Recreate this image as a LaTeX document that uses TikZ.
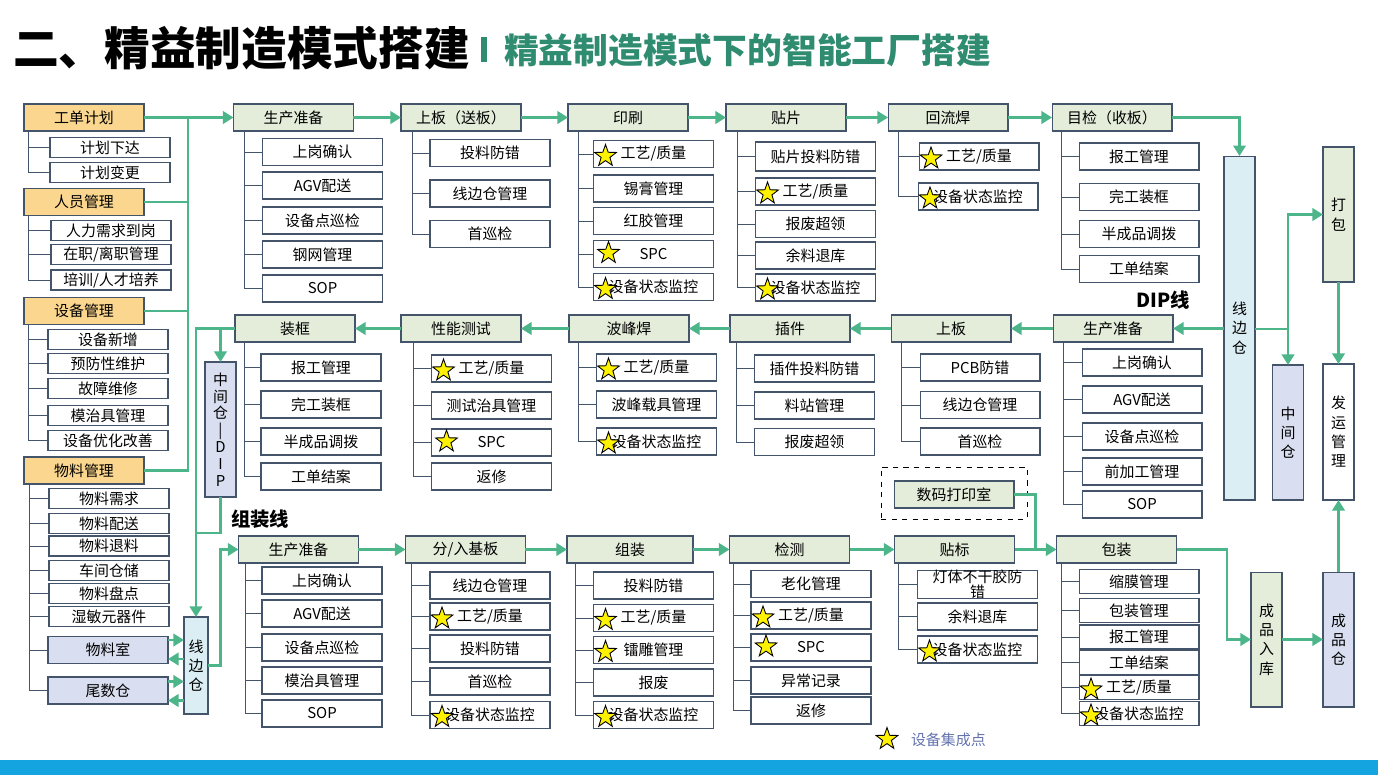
\documentclass[tikz,border=0pt]{standalone}
\usepackage{fontspec}
\setmainfont{Noto Sans CJK SC}
\usepackage{tikz}
\usetikzlibrary{shapes.geometric,arrows.meta}

\definecolor{boxline}{RGB}{68,84,106}
\definecolor{stepgreen}{RGB}{227,237,218}
\definecolor{mgrorange}{RGB}{250,214,142}
\definecolor{bluefill}{RGB}{217,223,240}
\definecolor{cyanfill}{RGB}{218,238,243}
\definecolor{flowgreen}{RGB}{76,182,138}
\definecolor{titleteal}{RGB}{48,140,112}
\definecolor{bandblue}{RGB}{20,165,225}
\definecolor{legendblue}{RGB}{100,115,175}

\begin{document}
\begin{tikzpicture}[x=0.02cm, y=-0.02cm,
    every node/.style={inner sep=0pt, outer sep=0pt, font=\fontsize{8.5}{10}\selectfont},
    box/.style={draw=boxline, line width=0.6pt, minimum width=2.4cm, minimum height=0.54cm},
    stepbox/.style={box, fill=stepgreen},
    mgrbox/.style={box, fill=mgrorange},
    subbox/.style={box, fill=white},
    leftsub/.style={box, fill=white, minimum height=0.4cm},
    colbox/.style={draw=boxline, line width=0.6pt, minimum width=0.62cm, minimum height=2.7cm, align=center, font=\fontsize{8.5}{11}\selectfont},
    goldstar/.style={star, star points=5, star point ratio=2.5, minimum size=0.46cm, fill=yellow, draw=black, line width=0.5pt},
    tree/.style={draw=boxline, line width=0.5pt},
    flow/.style={draw=flowgreen, line width=1.6pt},
    flowarrow/.style={flow, -{Triangle[length=6pt,width=7pt]}},
    linelabel/.style={font=\fontsize{11}{11}\selectfont\bfseries}]

    \useasboundingbox (0,0) rectangle (1378,775);

    % Title
    \node[anchor=west, font=\fontsize{26}{26}\selectfont\bfseries] (ttl) at (13,48) {二、精益制造模式搭建};
    \node[fill=titleteal, minimum width=0.12cm, minimum height=0.5cm] (ttlbar) at (484,49) {};
    \node[anchor=west, text=titleteal, font=\fontsize{19.8}{20}\selectfont\bfseries] (subttl) at (504,50) {精益制造模式下的智能工厂搭建};
    \fill[bandblue] (0,760) rectangle (1378,775);

    % Left column
    \node[mgrbox] (jh) at (84,117.5) {工单计划};
    \node[leftsub] (jh1) at (110,147.5) {计划下达};
    \node[leftsub] (jh2) at (110,172.5) {计划变更};
    \node[mgrbox] (ry) at (84,202) {人员管理};
    \node[leftsub] (ry1) at (111,230.5) {人力需求到岗};
    \node[leftsub] (ry2) at (111,254.5) {在职/离职管理};
    \node[leftsub] (ry3) at (111,280) {培训/人才培养};
    \node[mgrbox] (sb) at (84,311) {设备管理};
    \node[leftsub] (sb1) at (108,339.5) {设备新增};
    \node[leftsub] (sb2) at (108,363.5) {预防性维护};
    \node[leftsub] (sb3) at (108,388.5) {故障维修};
    \node[leftsub] (sb4) at (108,415.5) {模治具管理};
    \node[leftsub] (sb5) at (108,440.5) {设备优化改善};
    \node[mgrbox] (wl) at (84,470.5) {物料管理};
    \node[leftsub] (wl1) at (109,498.5) {物料需求};
    \node[leftsub] (wl2) at (109,523.5) {物料配送};
    \node[leftsub] (wl3) at (109,546) {物料退料};
    \node[leftsub] (wl4) at (109,570.5) {车间仓储};
    \node[leftsub] (wl5) at (109,593.5) {物料盘点};
    \node[leftsub] (wl6) at (109,616.5) {湿敏元器件};
    \node[subbox, fill=bluefill] (wls) at (108,650) {物料室};
    \node[subbox, fill=bluefill] (wsc) at (108,690.5) {尾数仓};
    \node[colbox, fill=cyanfill, minimum width=0.48cm, minimum height=1.94cm] (xbL) at (196,665.5) {线\\边\\仓};
    \node[colbox, fill=bluefill, font=\fontsize{8.5}{9.6}\selectfont] (zjDip) at (220.5,429.5) {中\\间\\仓\\|\\D\\I\\P};

    \foreach \c in {jh1,jh2} \draw[tree] ([xshift=0.08cm]jh.south west) |- (\c.west);
    \foreach \c in {ry1,ry2,ry3} \draw[tree] ([xshift=0.08cm]ry.south west) |- (\c.west);
    \foreach \c in {sb1,sb2,sb3,sb4,sb5} \draw[tree] ([xshift=0.08cm]sb.south west) |- (\c.west);
    \foreach \c in {wl1,wl2,wl3,wl4,wl5,wl6,wls,wsc} \draw[tree] ([xshift=0.1cm]wl.south west) |- (\c.west);

    % SMT line
    \node[stepbox] (smt1) at (293.5,117.5) {生产准备};
    \node[stepbox] (smt2) at (461,117.5) {上板（送板）};
    \node[stepbox] (smt3) at (628,117.5) {印刷};
    \node[stepbox] (smt4) at (786,117.5) {贴片};
    \node[stepbox] (smt5) at (948,117.5) {回流焊};
    \node[stepbox] (smt6) at (1112,117.5) {目检（收板）};

    \node[subbox] (smt1a) at (322.5,152) {上岗确认};
    \node[subbox] (smt1b) at (322.5,185.5) {AGV配送};
    \node[subbox] (smt1c) at (322.5,220.5) {设备点巡检};
    \node[subbox] (smt1d) at (322.5,254.5) {钢网管理};
    \node[subbox] (smt1e) at (322.5,288.5) {SOP};
    \node[subbox] (smt2a) at (490,153) {投料防错};
    \node[subbox] (smt2b) at (490,193.5) {线边仓管理};
    \node[subbox] (smt2c) at (490,234) {首巡检};
    \node[subbox] (smt3a) at (653.5,154) {工艺/质量};
    \node[subbox] (smt3b) at (653.5,188.5) {锡膏管理};
    \node[subbox] (smt3c) at (653.5,221) {红胶管理};
    \node[subbox] (smt3d) at (653.5,254) {SPC};
    \node[subbox] (smt3e) at (653.5,287) {设备状态监控};
    \node[subbox, minimum height=0.58cm] (smt4a) at (815.5,156.5) {贴片投料防错};
    \node[subbox] (smt4b) at (815.5,191.5) {工艺/质量};
    \node[subbox] (smt4c) at (815.5,224) {报废超领};
    \node[subbox] (smt4d) at (815.5,255.5) {余料退库};
    \node[subbox] (smt4e) at (815.5,287.5) {设备状态监控};
    \node[subbox] (smt5a) at (979,156.5) {工艺/质量};
    \node[subbox] (smt5b) at (978,196.5) {设备状态监控};
    \node[subbox] (smt6a) at (1139,156.5) {报工管理};
    \node[subbox] (smt6b) at (1139,197) {完工装框};
    \node[subbox] (smt6c) at (1139,234) {半成品调拨};
    \node[subbox] (smt6d) at (1139,269) {工单结案};

    \foreach \c in {smt1a,smt1b,smt1c,smt1d,smt1e} \draw[tree] ([xshift=0.22cm]smt1.south west) |- (\c.west);
    \foreach \c in {smt2a,smt2b,smt2c} \draw[tree] ([xshift=0.22cm]smt2.south west) |- (\c.west);
    \foreach \c in {smt3a,smt3b,smt3c,smt3d,smt3e} \draw[tree] ([xshift=0.2cm]smt3.south west) |- (\c.west);
    \foreach \c in {smt4a,smt4b,smt4c,smt4d,smt4e} \draw[tree] ([xshift=0.22cm]smt4.south west) |- (\c.west);
    \foreach \c in {smt5a,smt5b} \draw[tree] ([xshift=0.2cm]smt5.south west) |- (\c.west);
    \foreach \c in {smt6a,smt6b,smt6c,smt6d} \draw[tree] ([xshift=0.18cm]smt6.south west) |- (\c.west);

    % DIP line
    \node[linelabel] (diplbl) at (1163,300) {DIP线};
    \node[stepbox] (dip1) at (1113,328.5) {生产准备};
    \node[stepbox] (dip2) at (951,328.5) {上板};
    \node[stepbox] (dip3) at (790,328.5) {插件};
    \node[stepbox] (dip4) at (629,328.5) {波峰焊};
    \node[stepbox] (dip5) at (461,328.5) {性能测试};
    \node[stepbox] (dip6) at (295,328.5) {装框};

    \node[subbox] (dip1a) at (1142,362.5) {上岗确认};
    \node[subbox] (dip1b) at (1142,399.5) {AGV配送};
    \node[subbox] (dip1c) at (1142,436.5) {设备点巡检};
    \node[subbox] (dip1d) at (1142,471.5) {前加工管理};
    \node[subbox] (dip1e) at (1142,504.5) {SOP};
    \node[subbox] (dip2a) at (980,367.5) {PCB防错};
    \node[subbox] (dip2b) at (980,405) {线边仓管理};
    \node[subbox] (dip2c) at (980,441.5) {首巡检};
    \node[subbox] (dip3a) at (814.5,368.5) {插件投料防错};
    \node[subbox] (dip3b) at (814.5,405.5) {料站管理};
    \node[subbox] (dip3c) at (814.5,442) {报废超领};
    \node[subbox] (dip4a) at (656.5,367.5) {工艺/质量};
    \node[subbox] (dip4b) at (656.5,404.5) {波峰载具管理};
    \node[subbox] (dip4c) at (656.5,441.5) {设备状态监控};
    \node[subbox] (dip5a) at (491.5,368.5) {工艺/质量};
    \node[subbox] (dip5b) at (491.5,405.5) {测试治具管理};
    \node[subbox] (dip5c) at (491.5,442.5) {SPC};
    \node[subbox] (dip5d) at (491.5,476.5) {返修};
    \node[subbox] (dip6a) at (321,367.5) {报工管理};
    \node[subbox] (dip6b) at (321,404.5) {完工装框};
    \node[subbox] (dip6c) at (321,441.5) {半成品调拨};
    \node[subbox] (dip6d) at (321,476.5) {工单结案};

    \foreach \c in {dip1a,dip1b,dip1c,dip1d,dip1e} \draw[tree] ([xshift=0.2cm]dip1.south west) |- (\c.west);
    \foreach \c in {dip2a,dip2b,dip2c} \draw[tree] ([xshift=0.2cm]dip2.south west) |- (\c.west);
    \foreach \c in {dip3a,dip3b,dip3c} \draw[tree] ([xshift=0.12cm]dip3.south west) |- (\c.west);
    \foreach \c in {dip4a,dip4b,dip4c} \draw[tree] ([xshift=0.18cm]dip4.south west) |- (\c.west);
    \foreach \c in {dip5a,dip5b,dip5c,dip5d} \draw[tree] ([xshift=0.24cm]dip5.south west) |- (\c.west);
    \foreach \c in {dip6a,dip6b,dip6c,dip6d} \draw[tree] ([xshift=0.18cm]dip6.south west) |- (\c.west);

    % Assembly line
    \node[linelabel] (asmlbl) at (260,519) {组装线};
    \node[stepbox] (asm1) at (298.5,549.5) {生产准备};
    \node[stepbox] (asm2) at (465.5,549.5) {分/入基板};
    \node[stepbox, minimum width=2.52cm] (asm3) at (630,549.5) {组装};
    \node[stepbox] (asm4) at (789.5,549.5) {检测};
    \node[stepbox] (asm5) at (954.5,549.5) {贴标};
    \node[stepbox] (asm6) at (1116.5,549.5) {包装};

    \node[subbox] (asm1a) at (322,580.5) {上岗确认};
    \node[subbox] (asm1b) at (322,613.5) {AGV配送};
    \node[subbox] (asm1c) at (322,647.5) {设备点巡检};
    \node[subbox] (asm1d) at (322,680.5) {模治具管理};
    \node[subbox] (asm1e) at (322,713.5) {SOP};
    \node[subbox] (asm2a) at (490,585.5) {线边仓管理};
    \node[subbox] (asm2b) at (490,616.5) {工艺/质量};
    \node[subbox] (asm2c) at (490,648.5) {投料防错};
    \node[subbox] (asm2d) at (490,681.5) {首巡检};
    \node[subbox] (asm2e) at (490,715) {设备状态监控};
    \node[subbox] (asm3a) at (653.5,585.5) {投料防错};
    \node[subbox] (asm3b) at (653.5,618) {工艺/质量};
    \node[subbox] (asm3c) at (653.5,650) {镭雕管理};
    \node[subbox] (asm3d) at (653.5,682.5) {报废};
    \node[subbox] (asm3e) at (653.5,715) {设备状态监控};
    \node[subbox] (asm4a) at (811,584) {老化管理};
    \node[subbox] (asm4b) at (811,615.5) {工艺/质量};
    \node[subbox] (asm4c) at (811,647.5) {SPC};
    \node[subbox] (asm4d) at (811,680.5) {异常记录};
    \node[subbox] (asm4e) at (811,710.5) {返修};
    \node[subbox, align=center, font=\fontsize{8.5}{8.5}\selectfont] (asm5a) at (977.5,584.5) {灯体不干胶防\\错};
    \node[subbox] (asm5b) at (977.5,616.5) {余料退库};
    \node[subbox] (asm5c) at (977.5,649.5) {设备状态监控};
    \node[subbox, minimum height=0.48cm] (asm6a) at (1139,581.5) {缩膜管理};
    \node[subbox, minimum height=0.48cm] (asm6b) at (1139,610.5) {包装管理};
    \node[subbox, minimum height=0.48cm] (asm6c) at (1139,637) {报工管理};
    \node[subbox, minimum height=0.48cm] (asm6d) at (1139,662.5) {工单结案};
    \node[subbox, minimum height=0.48cm] (asm6e) at (1139,687.5) {工艺/质量};
    \node[subbox, minimum height=0.48cm] (asm6f) at (1139,713.5) {设备状态监控};

    \foreach \c in {asm1a,asm1b,asm1c,asm1d,asm1e} \draw[tree] ([xshift=0.14cm]asm1.south west) |- (\c.west);
    \foreach \c in {asm2a,asm2b,asm2c,asm2d,asm2e} \draw[tree] ([xshift=0.12cm]asm2.south west) |- (\c.west);
    \foreach \c in {asm3a,asm3b,asm3c,asm3d,asm3e} \draw[tree] ([xshift=0.16cm]asm3.south west) |- (\c.west);
    \foreach \c in {asm4a,asm4b,asm4c,asm4d,asm4e} \draw[tree] ([xshift=0.08cm]asm4.south west) |- (\c.west);
    \foreach \c in {asm5a,asm5b,asm5c} \draw[tree] ([xshift=0.08cm]asm5.south west) |- (\c.west);
    \foreach \c in {asm6a,asm6b,asm6c,asm6d,asm6e,asm6f} \draw[tree] ([xshift=0.1cm]asm6.south west) |- (\c.west);

    % Printing room
    \node[draw=black, dashed, line width=0.5pt, minimum width=2.92cm, minimum height=1.04cm] (smfr) at (954,493) {};
    \node[stepbox] (smdy) at (954,494.5) {数码打印室};

    % Right column
    \node[colbox, fill=cyanfill, minimum height=6.88cm] (xbR) at (1239.5,328) {线\\边\\仓};
    \node[colbox, fill=stepgreen] (db) at (1338.5,214.5) {打\\包};
    \node[colbox, fill=bluefill] (zjR) at (1288,432.5) {中\\间\\仓};
    \node[colbox, fill=white, minimum height=2.72cm] (fy) at (1338.5,432) {发\\运\\管\\理};
    \node[colbox, fill=stepgreen] (cprk) at (1266.5,639.5) {成\\品\\入\\库};
    \node[colbox, fill=bluefill] (cpc) at (1338.5,639.5) {成\\品\\仓};

    % Stars
    \foreach \b in {smt3a,smt3e,smt4b,smt4e,smt5a,smt5b,dip4a,dip4c,dip5a,asm2b,asm2e,asm3b,asm3c,asm3e,asm4b,asm5c,asm6e,asm6f}
        \node[goldstar] (\b-star) at ([xshift=0.24cm,yshift=-0.04cm]\b.west) {};
    \foreach \b in {smt3d,dip5c,asm4c}
        \node[goldstar] (\b-star) at ([xshift=0.3cm,yshift=0.02cm]\b.west) {};

    % Flow connectors
    \coordinate (bus) at (188,117.5);
    \draw[flowarrow] (jh.east) -- (smt1.west);
    \draw[flow] (ry.east) -| (bus);
    \draw[flow] (sb.east) -| (bus);
    \draw[flow] (wl.east) -| (bus);
    \draw[flowarrow] (smt1.east) -- (smt2.west);
    \draw[flowarrow] (smt2.east) -- (smt3.west);
    \draw[flowarrow] (smt3.east) -- (smt4.west);
    \draw[flowarrow] (smt4.east) -- (smt5.west);
    \draw[flowarrow] (smt5.east) -- (smt6.west);
    \draw[flowarrow] (smt6.east) -| (xbR.north);

    \coordinate (rbus) at (1288,329);
    \draw[flowarrow] (xbR.west |- dip1.east) -- (dip1.east);
    \draw[flow] (xbR.east |- rbus) -- (rbus);
    \draw[flowarrow] (rbus) |- (db.west);
    \draw[flowarrow] (rbus) -- (zjR.north);
    \draw[flowarrow] (db.south) -- (fy.north);
    \draw[flowarrow] (cpc.north) -- (fy.south);

    \draw[flowarrow] (dip1.west) -- (dip2.east);
    \draw[flowarrow] (dip2.west) -- (dip3.east);
    \draw[flowarrow] (dip3.west) -- (dip4.east);
    \draw[flowarrow] (dip4.west) -- (dip5.east);
    \draw[flowarrow] (dip5.west) -- (dip6.east);
    \draw[flowarrow] (dip6.west) -| (xbL.north);
    \draw[flowarrow] (dip6.west -| zjDip.north) -- (zjDip.north);
    \coordinate (dipjoin) at (196,533);
    \draw[flow] (zjDip.south) |- (dipjoin);

    \draw[flowarrow] ([yshift=0.2cm]wls.east) -- ([yshift=0.2cm]wls.east -| xbL.west);
    \draw[flowarrow] ([yshift=-0.18cm]wls.east -| xbL.west) -- ([yshift=-0.18cm]wls.east);
    \draw[flowarrow] ([yshift=0.18cm]wsc.east) -- ([yshift=0.18cm]wsc.east -| xbL.west);
    \draw[flowarrow] ([yshift=-0.2cm]wsc.east -| xbL.west) -- ([yshift=-0.2cm]wsc.east);
    \draw[flowarrow] (xbL.east) -| ([xshift=-0.36cm]asm1.west) -- (asm1.west);

    \draw[flowarrow] (asm1.east) -- (asm2.west);
    \draw[flowarrow] (asm2.east) -- (asm3.west);
    \draw[flowarrow] (asm3.east) -- (asm4.west);
    \draw[flowarrow] (asm4.east) -- (asm5.west);
    \draw[flowarrow] (asm5.east) -- (asm6.west);
    \draw[flow] (smdy.east) -| ([xshift=-0.42cm]asm6.west);
    \draw[flowarrow] (asm6.east) -| ([xshift=-0.48cm]cprk.west) -- (cprk.west);
    \draw[flowarrow] (cprk.east) -- (cpc.west);

    % Legend
    \node[goldstar] (lgstar) at (887,739) {};
    \node[anchor=west, text=legendblue] (lgtext) at (911,740) {设备集成点};

\end{tikzpicture}
\end{document}
